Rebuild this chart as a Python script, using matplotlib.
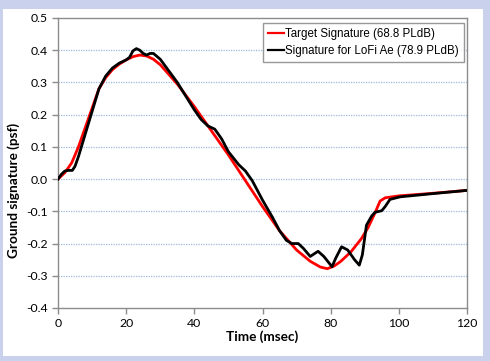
import matplotlib
matplotlib.use("Agg")
import matplotlib.pyplot as plt
from matplotlib.patches import Rectangle

t_target = [0, 2, 4, 6, 8, 10, 12, 14, 16, 18, 20, 22, 24, 26, 28, 30, 35, 40, 45, 50,
            55, 60, 65, 70, 74, 77, 79, 81, 83, 86, 89, 91, 93, 94.5, 96, 98, 100, 110, 120]
p_target = [0, 0.02, 0.05, 0.1, 0.16, 0.22, 0.28, 0.315, 0.34, 0.357, 0.37, 0.38, 0.385, 0.382,
            0.372, 0.355, 0.295, 0.225, 0.15, 0.075, -0.005, -0.085, -0.16, -0.22, -0.255,
            -0.273, -0.278, -0.27, -0.255, -0.225, -0.185, -0.15, -0.105, -0.068, -0.058,
            -0.055, -0.052, -0.044, -0.035]

t_lofi = [0, 1, 2, 3, 4.2, 5, 6, 8, 10, 12, 14, 16, 18, 20, 21, 22, 23, 24, 25, 26, 27, 28,
          30, 35, 40, 42, 44, 46, 48, 50, 53, 55, 57, 60, 63, 65, 67, 68.6, 70.5, 72, 74,
          76.3, 78, 80.4, 81.5, 83.2, 85, 87, 88.4, 89.3, 90.5, 92, 93, 95, 96, 97.4, 100.4,
          110, 120]
p_lofi = [0, 0.015, 0.025, 0.027, 0.027, 0.04, 0.07, 0.14, 0.21, 0.28, 0.32, 0.345, 0.36,
          0.37, 0.378, 0.398, 0.405, 0.4, 0.39, 0.385, 0.39, 0.39, 0.372, 0.3, 0.215, 0.185,
          0.165, 0.155, 0.125, 0.085, 0.045, 0.025, -0.005, -0.065, -0.12, -0.16, -0.19,
          -0.2, -0.2, -0.215, -0.24, -0.224, -0.24, -0.272, -0.245, -0.21, -0.22, -0.25,
          -0.267, -0.235, -0.143, -0.115, -0.103, -0.098, -0.085, -0.063, -0.055, -0.045,
          -0.035]

label_target = "Target Signature (68.8 PLdB)"
label_lofi = "Signature for LoFi Ae (78.9 PLdB)"
xticks = [0, 20, 40, 60, 80, 100, 120]
yticks = [-0.4, -0.3, -0.2, -0.1, 0.0, 0.1, 0.2, 0.3, 0.4, 0.5]

W, H = 490, 361
fig = plt.figure(figsize=(W / 100, H / 100), dpi=100)
fig.patch.set_facecolor("#C9D1EC")
fig.add_artist(Rectangle((3 / W, 1 - 356 / H), 480 / W, 347 / H,
                         transform=fig.transFigure, facecolor="white",
                         edgecolor="none", zorder=-10))

ax = fig.add_axes([58 / W, 1 - 308 / H, 409 / W, 290 / H])
ax.set_zorder(1)
ax.set_facecolor("white")
ax.plot(t_target, p_target, color="#FF0000", lw=2.0, label=label_target, zorder=3)
ax.plot(t_lofi, p_lofi, color="black", lw=2.0, label=label_lofi, zorder=4)

ax.set_xlim(0, 120)
ax.set_ylim(-0.4, 0.5)
ax.set_xticks(xticks)
ax.set_yticks(yticks)
ax.set_yticklabels([f"{v:.1f}" for v in yticks])
for v in yticks[1:-1]:
    ax.axhline(v, color="#9FB8DE", lw=0.9, ls=(0, (1, 1)), zorder=1)

for s in ax.spines.values():
    s.set_color("#8C8C8C")
    s.set_linewidth(1.0)
ax.tick_params(axis="both", color="#8C8C8C", length=4, width=1,
               labelsize=8.8, labelcolor="black")
for lbl in ax.get_xticklabels() + ax.get_yticklabels():
    lbl.set_family("Lato")

ax.set_xlabel("Time (msec)", fontsize=9.8, fontweight="bold", family="Lato", labelpad=1)
fig.text(14 / W, 1 - 190 / H, "Ground signature (psf)", rotation=90,
         fontsize=9.8, fontweight="bold", family="Lato", ha="center", va="center")

leg = ax.legend(loc="upper right", bbox_to_anchor=(1.0, 0.995),
                prop={"family": "Liberation Sans", "size": 8.3},
                frameon=True, fancybox=False, handlelength=1.4, handletextpad=0.05,
                borderpad=0.45, labelspacing=0.45, borderaxespad=0.3)
leg.get_frame().set_edgecolor("#7F7F7F")
leg.get_frame().set_linewidth(1.0)
for line in leg.get_lines():
    line.set_linewidth(1.6)

fig.savefig("out.png", dpi=100, facecolor=fig.get_facecolor())
